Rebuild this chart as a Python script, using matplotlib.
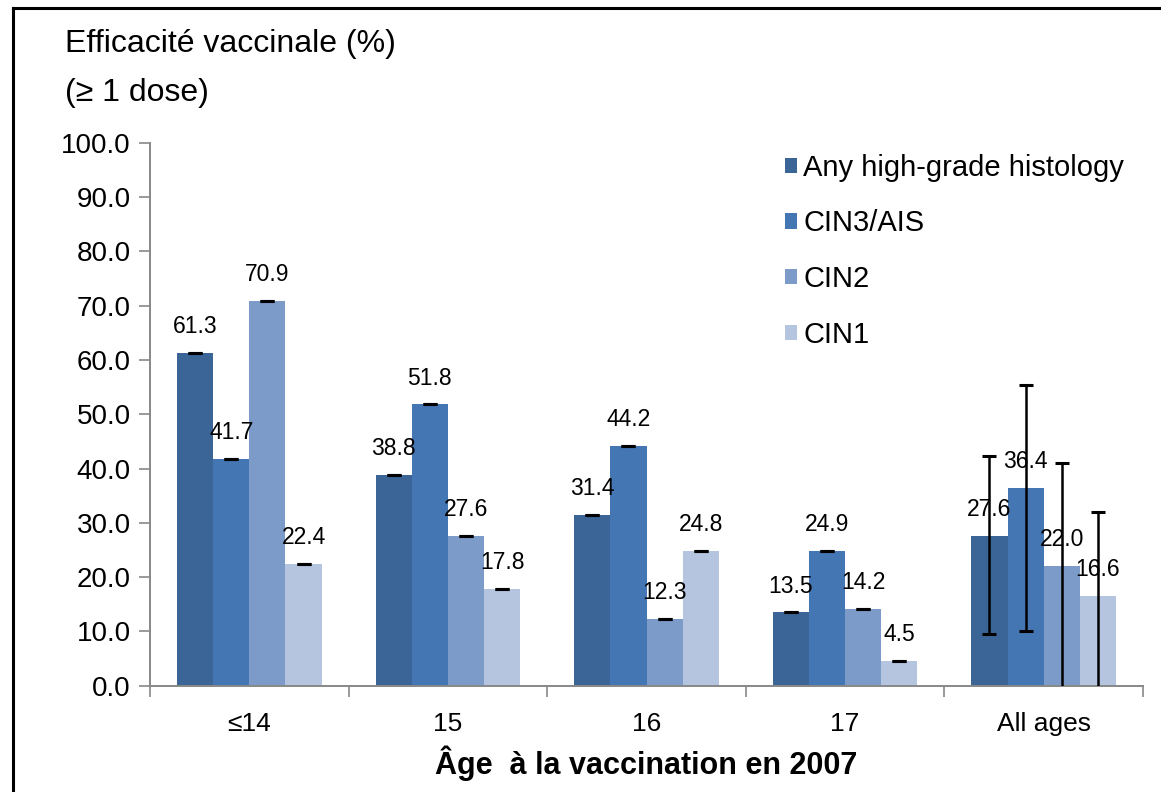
import numpy as np
import matplotlib
matplotlib.use("Agg")
import matplotlib.pyplot as plt
from matplotlib.patches import Patch
from matplotlib.lines import Line2D

plt.rcParams['font.family'] = ['Liberation Sans', 'DejaVu Sans']

# Data
ages = ['≤14', '15', '16', '17', 'All ages']
series = ['Any high-grade histology', 'CIN3/AIS', 'CIN2', 'CIN1']
any_hg = [61.3, 38.8, 31.4, 13.5, 27.6]
cin3 = [41.7, 51.8, 44.2, 24.9, 36.4]
cin2 = [70.9, 27.6, 12.3, 14.2, 22.0]
cin1 = [22.4, 17.8, 24.8, 4.5, 16.6]
# confidence intervals (only visible for "All ages")
ci_low = [[61.3, 38.8, 31.4, 13.5, 9.6],
          [41.7, 51.8, 44.2, 24.9, 10.1],
          [70.9, 27.6, 12.3, 14.2, -10.0],
          [22.4, 17.8, 24.8, 4.5, -10.0]]
ci_high = [[61.3, 38.8, 31.4, 13.5, 42.3],
           [41.7, 51.8, 44.2, 24.9, 55.3],
           [70.9, 27.6, 12.3, 14.2, 41.1],
           [22.4, 17.8, 24.8, 4.5, 31.9]]
colors = ['#3b6597', '#4576b4', '#7c9bc9', '#b5c4df']

values = [any_hg, cin3, cin2, cin1]

fig = plt.figure(figsize=(11.61, 7.92), dpi=100)
ax = fig.add_axes([0.1292, 0.1342, 0.9845 - 0.1292, 0.8198 - 0.1342])

x = np.arange(len(ages))
w = 0.182
for i, vals in enumerate(values):
    pos = x + (i - 1.5) * w
    vals = np.array(vals)
    ax.bar(pos, vals, width=w, color=colors[i], zorder=2)
    lo = vals - np.array(ci_low[i])
    hi = np.array(ci_high[i]) - vals
    ax.errorbar(pos, vals, yerr=[lo, hi], fmt='none', ecolor='black',
                elinewidth=1.8, capsize=5.2, capthick=2.2, zorder=3)
    for p, v in zip(pos, vals):
        ax.annotate(f'{v:.1f}', (p, v), xytext=(0, 19), textcoords='offset points',
                    ha='center', va='center', fontsize=16.5, zorder=4)

ax.set_xlim(-0.5, len(ages) - 0.5)
ax.set_ylim(0, 100)
ax.set_yticks(np.arange(0, 101, 10))
ax.set_yticklabels([f'{t:.1f}' for t in np.arange(0, 101, 10)], fontsize=20)
ax.set_xticks(x)
ax.set_xticklabels(ages, fontsize=19)
ax.set_xticks(np.arange(-0.5, len(ages), 1), minor=True)
ax.tick_params(axis='x', which='major', length=0, pad=19)
ax.tick_params(axis='x', which='minor', length=8, color='#888888', width=1.2)
ax.tick_params(axis='y', length=8, color='#888888', width=1.2, pad=6)

for s in ['top', 'right']:
    ax.spines[s].set_visible(False)
for s in ['left', 'bottom']:
    ax.spines[s].set_color('#888888')
    ax.spines[s].set_linewidth(1.4)

ax.set_xlabel('Âge  à la vaccination en 2007', fontsize=22, fontweight='bold', labelpad=7)

handles = [Patch(facecolor=c, edgecolor='none') for c in colors]
ax.legend(handles, series, loc='upper left', bbox_to_anchor=(0.676, 0.806),
          bbox_transform=fig.transFigure, frameon=False, fontsize=21,
          handlelength=0.43, handleheight=0.43, handletextpad=0.2, labelspacing=0.95,
          borderaxespad=0, borderpad=0)

fig.text(0.056, 1 - 52 / 792, 'Efficacité vaccinale (%)', ha='left', va='baseline',
         fontsize=23)
fig.text(0.056, 1 - 101 / 792, '(≥ 1 dose)', ha='left', va='baseline',
         fontsize=23)

# frame around the figure (top and left)
fig.add_artist(Line2D([0.0112, 1.0], [0.9899, 0.9899], color='black', lw=2.2,
                      transform=fig.transFigure))
fig.add_artist(Line2D([0.0112, 0.0112], [0.0, 0.9899], color='black', lw=2.2,
                      transform=fig.transFigure))

fig.savefig('out.png', dpi=100)
